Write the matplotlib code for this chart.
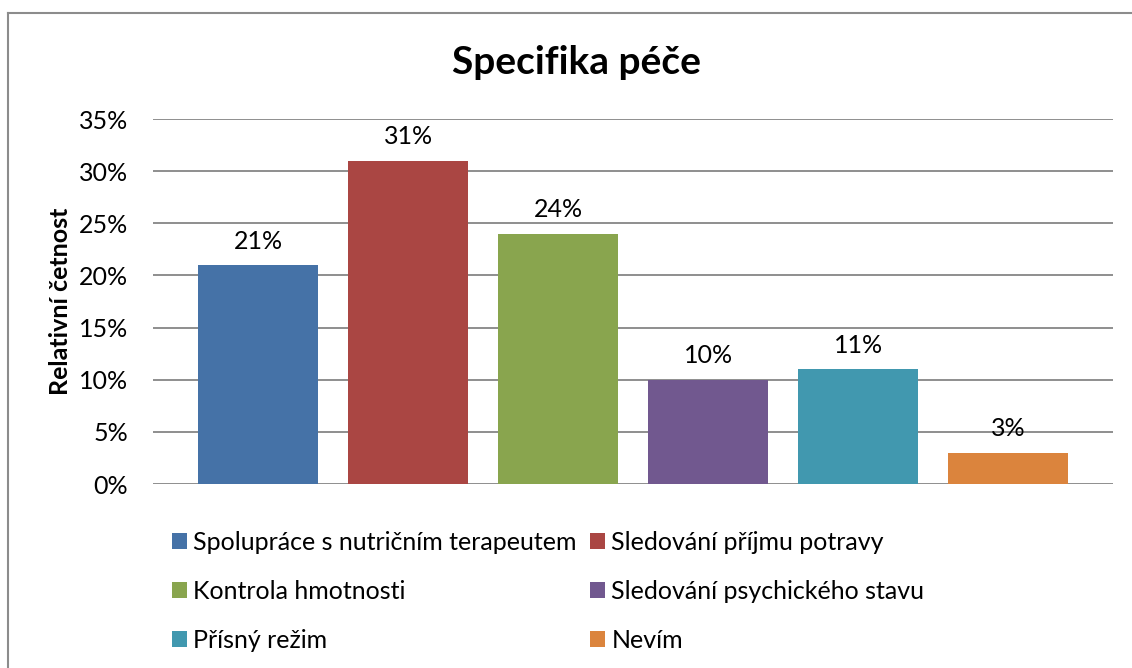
import matplotlib.pyplot as plt
from matplotlib.lines import Line2D
from matplotlib.patches import Patch

plt.rcParams['font.family'] = ['Lato', 'DejaVu Sans']

# data
categories = ['Spolupráce s nutričním terapeutem', 'Sledování příjmu potravy',
              'Kontrola hmotnosti', 'Sledování psychického stavu',
              'Přísný režim', 'Nevím']
values = [0.21, 0.31, 0.24, 0.10, 0.11, 0.03]
labels = ['21%', '31%', '24%', '10%', '11%', '3%']
colors = ['#4572A7', '#AA4643', '#89A54E', '#71588F', '#4198AF', '#DB843D']
yticks = [0, 0.05, 0.10, 0.15, 0.20, 0.25, 0.30, 0.35]
ytick_labels = ['0%', '5%', '10%', '15%', '20%', '25%', '30%', '35%']

W, H = 1132, 668
fig = plt.figure(figsize=(W / 100, H / 100), dpi=100)
ax = fig.add_axes([153 / W, 1 - 484 / H, 960 / W, 365 / H])

x = list(range(len(values)))
bars = ax.bar(x, values, width=0.8, color=colors, zorder=3)
ax.bar_label(bars, labels=labels, padding=9, fontsize=18)

ax.set_xlim(-0.7, 5.697)
ax.set_ylim(0, 0.35)
ax.set_yticks(yticks)
ax.set_yticklabels(ytick_labels, fontsize=18)
ax.set_xticks([])
ax.tick_params(axis='y', length=0, pad=18)
ax.grid(axis='y', color='#868686', linewidth=1.3, zorder=0)
for s in ax.spines.values():
    s.set_visible(False)

fig.text(60 / W, 1 - 301 / H, 'Relativní četnost', rotation=90, ha='center',
         va='center', fontsize=18, fontweight='bold')
fig.text(577 / W, 1 - 62 / H, 'Specifika péče', ha='center', va='center',
         fontsize=28, fontweight='bold')

# legend, two columns
handles = [Patch(facecolor=c) for c in colors]
for col, x0 in [(0, 172), (1, 590)]:
    idx = [col, col + 2, col + 4]
    fig.legend([handles[i] for i in idx], [categories[i] for i in idx],
               loc='upper left', bbox_to_anchor=(x0 / W, 1 - 531 / H),
               frameon=False, fontsize=18, borderpad=0, borderaxespad=0,
               handlelength=0.6, handleheight=0.6, handletextpad=0.25,
               labelspacing=1.03)

# chart border (left and top only visible)
fig.add_artist(Line2D([8 / W, 8 / W], [0, 1 - 13 / H], color='#8c8c8c', lw=1.5))
fig.add_artist(Line2D([8 / W, 1], [1 - 13 / H, 1 - 13 / H], color='#8c8c8c', lw=1.5))

fig.savefig('out.png', dpi=100)
